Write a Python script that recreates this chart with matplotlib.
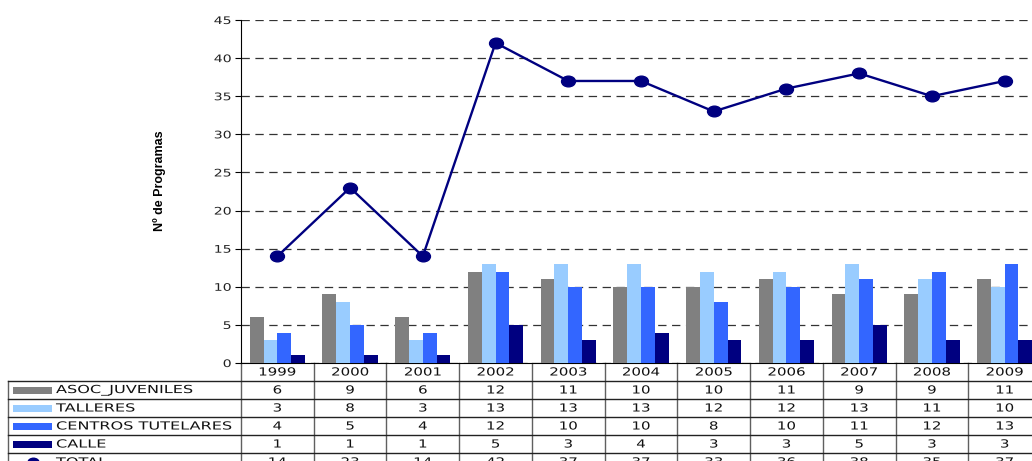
import matplotlib
matplotlib.use('Agg')
import matplotlib.pyplot as plt
import matplotlib.transforms as mtransforms
from matplotlib.path import Path
from matplotlib.patches import Rectangle
from matplotlib.lines import Line2D
from matplotlib.patheffects import AbstractPathEffect

years = ['1999', '2000', '2001', '2002', '2003', '2004', '2005', '2006', '2007', '2008', '2009']
asoc_juveniles = [6, 9, 6, 12, 11, 10, 10, 11, 9, 9, 11]
talleres = [3, 8, 3, 13, 13, 13, 12, 12, 13, 11, 10]
centros_tutelares = [4, 5, 4, 12, 10, 10, 8, 10, 11, 12, 13]
calle = [1, 1, 1, 5, 3, 4, 3, 3, 5, 3, 3]
total = [14, 23, 14, 42, 37, 37, 33, 36, 38, 35, 37]

bar_series = [('ASOC_JUVENILES', asoc_juveniles, '#808080'),
              ('TALLERES', talleres, '#99CCFF'),
              ('CENTROS TUTELARES', centros_tutelares, '#3366FF'),
              ('CALLE', calle, '#000080')]
line_color = '#000080'


class HStretch(AbstractPathEffect):
    # the source image was scaled wider than tall, so widen the glyphs
    def __init__(self, sx, anchor='center'):
        super().__init__()
        self.sx = sx
        self.anchor = anchor

    def draw_path(self, renderer, gc, tpath, affine, rgbFace=None):
        ext = tpath.get_extents()
        if self.anchor == 'left':
            x0 = 0
        elif self.anchor == 'right':
            x0 = ext.x1
        else:
            x0 = (ext.x0 + ext.x1) / 2
        t = mtransforms.Affine2D().translate(-x0, 0).scale(self.sx, 1).translate(x0, 0) + affine
        renderer.draw_path(gc, tpath, t, rgbFace)


plt.rcParams['font.family'] = 'DejaVu Sans'
plt.rcParams['lines.scale_dashes'] = False

W, H = 1032, 461
fig = plt.figure(figsize=(W / 100, H / 100), dpi=100)

# pixel overlay for the data table
tab = fig.add_axes([0, 0, 1, 1])
tab.set_xlim(0, W)
tab.set_ylim(H, 0)
tab.axis('off')
tab.patch.set_visible(False)

ax = fig.add_axes([241 / W, 1 - 363 / H, 800 / W, 343 / H])
ax.patch.set_visible(False)
x = list(range(len(years)))
bw = 0.19
for k, (name, vals, col) in enumerate(bar_series):
    off = (k - 1.5) * bw
    ax.bar([i + off for i in x], vals, width=bw, color=col, zorder=3)

# stretched circle marker
ell = Path.unit_circle().transformed(mtransforms.Affine2D().scale(1.3, 1.0))
ax.plot(x, total, color=line_color, lw=1.7, marker=ell, markersize=10, zorder=4)

ax.set_xlim(-0.5, 10.5)
ax.set_ylim(0, 45)
ax.set_yticks(range(0, 50, 5))
ax.set_xticks([])
ax.yaxis.grid(True, linestyle=(0, (6, 4)), color='#333333', lw=0.9, zorder=0)
ax.spines['top'].set_visible(False)
ax.spines['right'].set_visible(False)
ax.spines['left'].set_color('black')
ax.spines['bottom'].set_color('black')
ax.tick_params(axis='y', labelsize=7.5, length=4, pad=3, colors='black', labelcolor='#222222')
for t in ax.yaxis.get_major_ticks():
    t.label1.set_path_effects([HStretch(1.35, 'right')])

fig.text(160 / W, 1 - 181 / H, 'Nº de Programas', rotation=90, ha='center', va='center',
         fontsize=9, fontweight='bold', family='Liberation Sans')

# ---- data table ----
trans = mtransforms.blended_transform_factory(ax.transData, tab.transData)
row_h = 18
top = 363
n_rows = 6
bottom = top + row_h * n_rows

for k in range(len(years) + 1):
    tab.add_line(Line2D([k - 0.5, k - 0.5], [top, bottom], transform=trans,
                        color='#606060', lw=1, clip_on=False))
tab.add_line(Line2D([8, 8], [top + row_h, bottom], color='#606060', lw=1, clip_on=False))
for r in range(1, n_rows + 1):
    y = top + r * row_h
    tab.add_line(Line2D([8, W], [y, y], color='#222222', lw=1, clip_on=False))

num_fx = [HStretch(1.35, 'center')]
lab_fx = [HStretch(1.45, 'left')]

for i, yr in enumerate(years):
    tab.text(i, top + row_h / 2 + 0.5, yr, transform=trans, ha='center', va='center',
             fontsize=8, color='#111111', path_effects=num_fx)

rows = [(n, v, c) for n, v, c in bar_series] + [('TOTAL', total, line_color)]
for r, (name, vals, col) in enumerate(rows):
    yc = top + row_h * (r + 1) + row_h / 2
    if name == 'TOTAL':
        tab.add_line(Line2D([13, 52], [yc, yc], color=col, lw=1.7, clip_on=False))
        tab.add_line(Line2D([32.5], [yc], color=col, marker=ell, markersize=8,
                            clip_on=False))
    else:
        tab.add_patch(Rectangle((13, yc - 3.5), 39, 7, facecolor=col, edgecolor='none',
                                clip_on=False))
    tab.text(56, yc + 0.5, name, ha='left', va='center', fontsize=8, color='#111111',
             path_effects=lab_fx)
    for i, v in enumerate(vals):
        tab.text(i, yc + 0.5, str(v), transform=trans, ha='center', va='center',
                 fontsize=8, color='#111111', path_effects=num_fx)

fig.savefig('out.png', dpi=100)
